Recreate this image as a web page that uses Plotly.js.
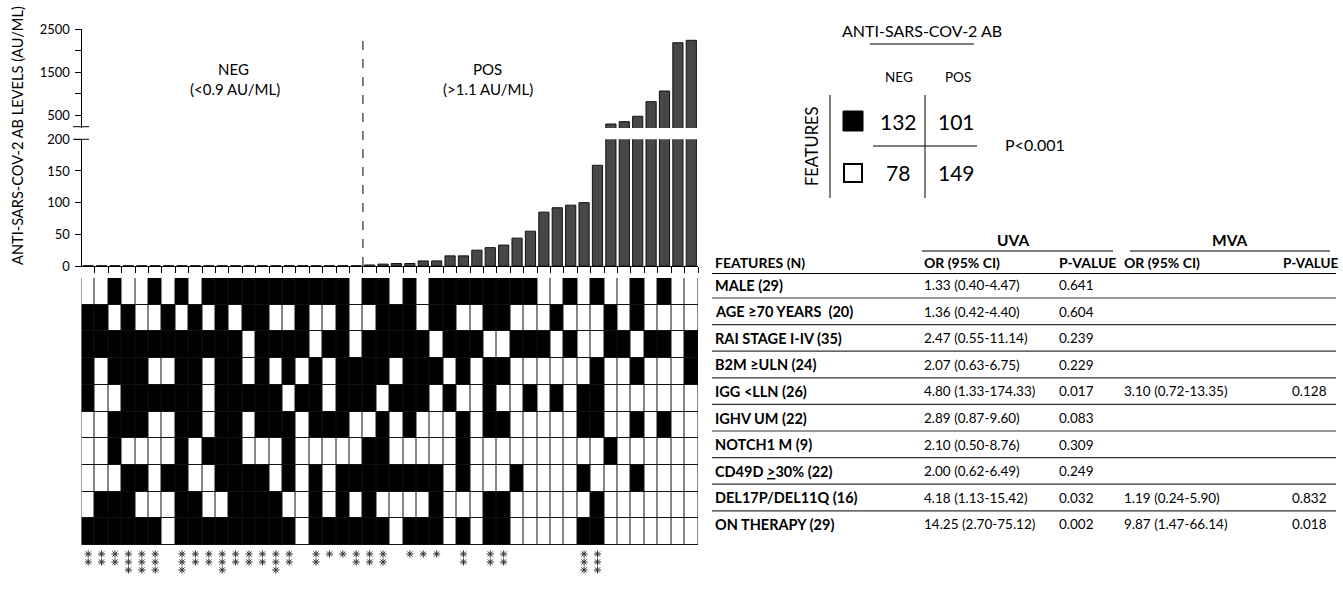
<!DOCTYPE html>
<html>
<head>
<meta charset="utf-8">
<script src="https://cdn.plot.ly/plotly-3.0.1.min.js"></script>
<style>html,body{margin:0;padding:0;background:#fff;}#chart{width:1343px;height:602px;}</style>
</head>
<body>
<div id="chart"></div>
<script>
// ---------------- DATA ----------------
// patient columns (sorted by antibody level): 21 NEG, 25 POS
const patientCols = [0,1,2,3,4,5,6,7,8,9,10,11,12,13,14,15,16,17,18,19,20,21,22,23,24,25,26,27,28,29,30,31,32,33,34,35,36,37,38,39,40,41,42,43,44,45];
const antibodyLevels = [0.4,0.4,0.4,0.4,0.4,0.4,0.4,0.4,0.4,0.4,0.4,0.4,0.4,0.4,0.4,0.4,0.4,0.4,0.4,0.4,0.4,
  1.6,3,4,4,8,8,16,16,25,29,33,44,55,85,92,96,100,159,291,345,470,810,1058,2181,2237];
const featureNames = ['MALE','AGE ≥70','RAI I-IV','B2M','IGG','IGHV','NOTCH1','CD49D','DEL','THERAPY'];
const male     = [0,0,1,0,0,1,0,1,0,1, 1,1,1,1,1,1,1,1,1,1, 0,1,1,0,1,0,1,1,1,1, 1,1,1,1,0,0,1,0,1,0, 0,1,0,1,0,0];
const age70    = [1,1,0,1,0,0,1,0,1,0, 1,0,1,1,0,0,1,0,0,1, 0,0,1,1,1,0,1,1,0,0, 1,1,0,0,0,1,0,0,0,1, 0,1,0,0,0,0];
const raiStage = [1,1,1,1,1,1,1,1,1,1, 1,1,0,1,1,1,1,0,1,1, 0,1,1,1,1,1,0,1,1,1, 0,0,1,1,1,0,1,0,0,1, 1,0,1,1,0,1];
const b2m      = [1,0,1,1,1,0,0,1,1,0, 1,1,0,1,0,1,0,1,0,1, 1,1,1,0,1,1,1,0,1,0, 1,1,0,0,0,0,0,0,1,0, 0,1,0,0,0,1];
const iggLow   = [1,0,0,1,1,1,1,1,1,0, 1,1,1,1,1,0,1,1,0,1, 1,1,0,1,1,1,0,1,0,0, 1,0,0,1,0,1,0,1,1,0, 0,0,0,0,0,0];
const ighvUM   = [0,0,1,1,1,0,0,1,1,0, 1,1,0,1,1,1,0,1,1,1, 0,0,1,0,1,0,0,0,1,0, 1,1,0,0,0,0,0,1,1,0, 0,1,0,1,0,0];
const notch1   = [0,0,1,0,0,0,0,1,0,1, 1,1,0,0,0,1,0,0,0,0, 0,1,1,0,0,0,0,0,1,0, 0,0,0,0,0,0,0,0,0,1, 0,0,0,0,0,0];
const cd49d    = [0,0,0,1,1,0,1,1,0,0, 1,1,1,1,0,1,0,1,0,1, 1,1,1,1,1,1,1,0,1,0, 0,0,1,0,0,0,0,1,0,0, 0,1,0,0,0,0];
const del17p   = [0,1,1,1,0,0,0,1,1,0, 0,1,1,1,1,0,0,1,0,1, 0,1,0,0,0,0,1,0,0,0, 1,1,0,0,0,0,0,0,1,0, 0,0,0,0,0,0];
const onTherapy= [1,1,1,1,1,1,0,1,1,1, 1,1,1,1,1,1,0,1,1,1, 1,1,1,0,1,1,1,0,1,0, 1,1,0,0,0,0,0,1,1,0, 0,0,0,0,0,0];
const asteriskCounts = [2,2,2,3,3,3,0,3,2,2, 3,2,2,2,3,2,0,2,1,1, 2,2,2,0,1,1,1,0,2,0, 2,2,0,0,0,0,0,3,3,0, 0,0,0,0,0,0];

const yTicksLow = [0,50,100,150,200];
const yTicksHigh = [500,1000,1500,2000,2500];
const yTickTextHigh = ['500','','1500','','2500'];

// 2x2 contingency
const contingencyNeg = [132,78];
const contingencyPos = [101,149];
const contingencyP = 'P<0.001';

// regression table
const tableFeatures = ['MALE (29)','AGE ≥70 YEARS  (20)','RAI STAGE I-IV (35)','B2M ≥ULN (24)','IGG &lt;LLN (26)','IGHV UM (22)','NOTCH1 M (9)','CD49D <u>&gt;</u>30% (22)','DEL17P/DEL11Q (16)','ON THERAPY (29)'];
const uvaOR = ['1.33 (0.40-4.47)','1.36 (0.42-4.40)','2.47 (0.55-11.14)','2.07 (0.63-6.75)','4.80 (1.33-174.33)','2.89 (0.87-9.60)','2.10 (0.50-8.76)','2.00 (0.62-6.49)','4.18 (1.13-15.42)','14.25 (2.70-75.12)'];
const uvaP  = ['0.641','0.604','0.239','0.229','0.017','0.083','0.309','0.249','0.032','0.002'];
const mvaOR = ['','','','','3.10 (0.72-13.35)','','','','1.19 (0.24-5.90)','9.87 (1.47-66.14)'];
const mvaP  = ['','','','','0.128','','','','0.832','0.018'];

// ---------------- LAYOUT HELPERS ----------------
const W = 1343, H = 602;
const fx = px => px / W;
const fy = py => 1 - py / H;
const FONT = 'Lato, "Open Sans", sans-serif';

const xDom = [fx(81.5), fx(698)];
const boundaries = patientCols.map(i => i + 0.5);
const gridTop = 278, gridBottom = 545;

const featureMatrix = [male, age70, raiStage, b2m, iggLow, ighvUM, notch1, cd49d, del17p, onTherapy];

// asterisk points built from counts
const astX = [], astY = [];
asteriskCounts.forEach((c, i) => { for (let k = 0; k < c; k++) { astX.push(patientCols[i]); astY.push(k); } });

const traces = [
  { type:'bar', x:patientCols, y:antibodyLevels, xaxis:'x', yaxis:'y', width:0.76,
    marker:{color:'#474747', line:{color:'#111', width:1}}, hoverinfo:'skip' },
  { type:'bar', x:patientCols, y:antibodyLevels, xaxis:'x2', yaxis:'y2', width:0.76,
    marker:{color:'#474747', line:{color:'#111', width:1}}, hoverinfo:'skip' },
  { type:'heatmap', x:patientCols, y:featureNames.map((_, i) => i), z:featureMatrix, xaxis:'x3', yaxis:'y3',
    zmin:0, zmax:1, colorscale:[[0,'#ffffff'],[1,'#000000']], showscale:false, xgap:1, ygap:1, hoverinfo:'skip' },
  { type:'scatter', mode:'markers', x:astX, y:astY, xaxis:'x4', yaxis:'y4',
    marker:{symbol:'asterisk-open', size:6, color:'#333', line:{color:'#333', width:1}}, hoverinfo:'skip' }
];

const hidden = {visible:false, fixedrange:true};
// asterisk rows: k=0 at y=554, 7.5px per row
const astTop = 548, astBot = 582, ast0 = 554, astStep = 8;
const layout = {
  width:W, height:H, margin:{l:0,r:0,t:0,b:0}, paper_bgcolor:'#fff', plot_bgcolor:'rgba(0,0,0,0)',
  showlegend:false, font:{family:FONT, color:'#000', size:12}, barmode:'overlay',
  xaxis:{domain:xDom, range:[-0.5,45.5], anchor:'y', showline:true, linecolor:'#000', linewidth:1,
    ticks:'outside', ticklen:6, tickcolor:'#000', tickwidth:1, tickvals:boundaries, showticklabels:false,
    showgrid:false, zeroline:false, fixedrange:true},
  yaxis:{domain:[fy(266), fy(139.3)], range:[0,200], anchor:'x', showline:true, linecolor:'#000', linewidth:1,
    ticks:'outside', ticklen:6, tickcolor:'#000', tickvals:yTicksLow, tickfont:{size:13, family:FONT}, ticklabelstandoff:2,
    showgrid:false, zeroline:false, fixedrange:true},
  xaxis2:Object.assign({domain:xDom, range:[-0.5,45.5], anchor:'y2'}, hidden),
  yaxis2:{domain:[fy(127.9), fy(29)], range:[200,2500], anchor:'x2', showline:true, linecolor:'#000', linewidth:1,
    ticks:'outside', ticklen:6, tickcolor:'#000', tickvals:yTicksHigh, ticktext:yTickTextHigh, tickfont:{size:13, family:FONT}, ticklabelstandoff:2,
    showgrid:false, zeroline:false, fixedrange:true},
  xaxis3:Object.assign({domain:xDom, range:[-0.5,45.5], anchor:'y3'}, hidden),
  yaxis3:Object.assign({domain:[fy(gridBottom), fy(gridTop)], range:[9.5,-0.5], anchor:'x3'}, hidden),
  xaxis4:Object.assign({domain:xDom, range:[-0.5,45.5], anchor:'y4'}, hidden),
  yaxis4:Object.assign({domain:[fy(astBot), fy(astTop)], range:[(astBot-ast0)/astStep, (astTop-ast0)/astStep], anchor:'x4'}, hidden),
  shapes:[], annotations:[]
};

const line = (x0,y0,x1,y1,w,c,dash) => layout.shapes.push({type:'line', xref:'paper', yref:'paper',
  x0:fx(x0), x1:fx(x1), y0:fy(y0), y1:fy(y1), line:{color:c||'#000', width:w||1, dash:dash||'solid'}});
const text = (t,x,y,o) => layout.annotations.push(Object.assign({text:t, xref:'paper', yref:'paper', x:fx(x), y:fy(y),
  showarrow:false, xanchor:'center', yanchor:'middle', font:{family:FONT, size:12, color:'#000'}}, o||{}));

// heatmap background (cell borders)
layout.shapes.push({type:'rect', xref:'paper', yref:'paper', layer:'below', x0:xDom[0], x1:xDom[1], y0:fy(gridBottom), y1:fy(gridTop),
  fillcolor:'#111', line:{width:0}});
// axis break marks
line(73, 126.7, 89, 126.7, 1);
line(73, 139.3, 89, 139.3, 1);
// NEG/POS divider
layout.shapes.push({type:'line', xref:'x', yref:'paper', x0:20.5, x1:20.5, y0:fy(266), y1:fy(35),
  line:{color:'#000', width:1, dash:'dash'}});

// y axis title
text('ANTI-SARS-COV-2 AB LEVELS (AU/ML)', 17, 136, {textangle:-90, font:{family:FONT, size:14.6}});
// group labels
text('NEG', 233, 69, {font:{family:FONT, size:15}});
text('(&lt;0.9 AU/ML)', 235, 89, {font:{family:FONT, size:15}});
text('POS', 487, 69, {font:{family:FONT, size:15}});
text('(&gt;1.1 AU/ML)', 488, 89, {font:{family:FONT, size:15}});

// ---- 2x2 contingency table ----
text('ANTI-SARS-COV-2 AB', 922, 31, {font:{family:FONT, size:16}});
line(870, 44, 974, 44, 1);
text('NEG', 899, 77, {font:{family:FONT, size:13.5}});
text('POS', 958, 77, {font:{family:FONT, size:13.5}});
text('FEATURES', 812, 146, {textangle:-90, font:{family:FONT, size:16.5}});
line(830, 95, 830, 198, 1);
line(925, 95, 925, 198, 1);
line(873, 146, 977, 146, 1);
layout.shapes.push({type:'rect', xref:'paper', yref:'paper', x0:fx(843), x1:fx(863), y0:fy(131), y1:fy(111), fillcolor:'#000', line:{color:'#000', width:1}});
layout.shapes.push({type:'rect', xref:'paper', yref:'paper', x0:fx(844), x1:fx(862), y0:fy(182), y1:fy(164), fillcolor:'#fff', line:{color:'#000', width:2}});
text(String(contingencyNeg[0]), 898, 121, {font:{family:FONT, size:21}});
text(String(contingencyPos[0]), 956, 121, {font:{family:FONT, size:21}});
text(String(contingencyNeg[1]), 898, 172, {font:{family:FONT, size:21}});
text(String(contingencyPos[1]), 956, 172, {font:{family:FONT, size:21}});
text(contingencyP, 1035, 144, {font:{family:FONT, size:16}});

// ---- regression table ----
const colX = {feat:713, uvaOR:922, uvaP:1057, mvaOR:1122, mvaP:1290};
const rowY0 = 285, rowH = 26.6;
text('<b>UVA</b>', 1013, 240, {font:{family:FONT, size:15.5}});
text('<b>MVA</b>', 1230, 240, {font:{family:FONT, size:15.5}});
line(922, 251, 1113, 251, 1);
line(1130, 251, 1330, 251, 1);
const hdr = {xanchor:'left', font:{family:FONT, size:14}};
text('<b>FEATURES (N)</b>', colX.feat, 263, hdr);
text('<b>OR (95% CI)</b>', colX.uvaOR, 263, hdr);
text('<b>P-VALUE</b>', colX.uvaP, 263, hdr);
text('<b>OR (95% CI)</b>', colX.mvaOR, 263, hdr);
text('<b>P-VALUE</b>', 1281, 263, {xanchor:'left', font:{family:FONT, size:13.5}});
line(712, 273.5, 1336, 273.5, 1.2);
tableFeatures.forEach((f, i) => {
  const y = rowY0 + rowH * i;
  const cell = {xanchor:'left', font:{family:FONT, size:13.5}};
  text('<b>' + f + '</b>', colX.feat, y, {xanchor:'left', font:{family:FONT, size:14.5}});
  text(uvaOR[i], colX.uvaOR, y, cell);
  text(uvaP[i], colX.uvaP, y, cell);
  if (mvaOR[i]) text(mvaOR[i], colX.mvaOR, y, cell);
  if (mvaP[i]) text(mvaP[i], colX.mvaP, y, cell);
  if (i < tableFeatures.length - 1) line(712, y + 13, 1336, y + 13, 1.2, '#333');
});

Plotly.newPlot('chart', traces, layout, {staticPlot:true, displayModeBar:false});
</script>
</body>
</html>
